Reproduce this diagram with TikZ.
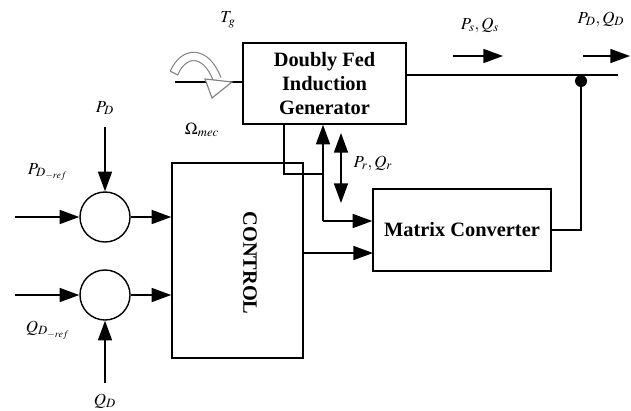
\documentclass[tikz,border=0pt]{standalone}
\usepackage{mathptmx}
\usepackage{fontspec}
\setmainfont{Liberation Serif}
\usetikzlibrary{arrows.meta}

\begin{document}
\begin{tikzpicture}[
    x=0.025cm, y=-0.025cm,
    block/.style={draw, rectangle, line width=1pt, inner sep=0pt, align=center, font=\fontsize{14.5}{17}\selectfont\bfseries},
    sum/.style={draw, circle, line width=1pt, minimum size=1.25cm, inner sep=0pt},
    arrow/.style={-{Triangle[length=14pt,width=10pt]}, line width=1pt},
    darrow/.style={{Triangle[length=14pt,width=10pt]}-{Triangle[length=14pt,width=10pt]}, line width=1pt},
    link/.style={line width=1pt},
    lbl/.style={font=\fontsize{12}{14}\selectfont, inner sep=0pt}
]
\useasboundingbox (0,0) rectangle (631,410);

% blocks
\node[block, minimum width=4.075cm, minimum height=2.025cm] (dfig) at (324.5,83.5) {Doubly Fed\\Induction\\Generator};
\node[block, minimum width=4.45cm, minimum height=2.05cm] (mc) at (462,230) {Matrix Converter};
\node[block, minimum width=3.275cm, minimum height=4.875cm] (ctrl) at (237.5,260.5) {};
\node[rotate=-90, font=\fontsize{14.5}{17}\selectfont\bfseries] (ctrltext) at (250,263) {CONTROL};

% summing junctions
\node[sum] (sumP) at (105,217) {};
\node[sum] (sumQ) at (105,295) {};

\coordinate (pref) at (15,217);
\coordinate (pmeas) at (105,127);
\coordinate (qref) at (15,295);
\coordinate (qmeas) at (105,383);

\draw[arrow] (pref) -- (sumP);
\draw[arrow] (pmeas) -- (sumP);
\draw[arrow] (sumP) -- (sumP -| ctrl.west);
\draw[arrow] (qref) -- (sumQ);
\draw[arrow] (qmeas) -- (sumQ);
\draw[arrow] (sumQ) -- (sumQ -| ctrl.west);

\node[lbl] (lpd) at (105,108) {$P_D$};
\node[lbl] (lpref) at (48,172) {$P_{D_{-ref}}$};
\node[lbl] (lqref) at (48,330) {$Q_{D_{-ref}}$};
\node[lbl] (lqd) at (105,401) {$Q_D$};

% mechanical input
\node[lbl] (ltg) at (228,20) {$T_g$};
\node[lbl] (lomega) at (202,130) {$\Omega_{mec}$};
\coordinate (shaft) at (175,82);
\draw[link] (shaft) -- (shaft -| dfig.west);
\draw[gray, line width=0.8pt, double=white, double distance=5pt] (174,73) .. controls (184,50) and (206,50) .. (217,79);
\draw[gray, line width=0.8pt] (170,71) -- (178,75);
\filldraw[gray, fill=white, line width=0.8pt] (205,79) -- (232,82) -- (212,98) -- cycle;

% stator side
\coordinate (busend) at (618,75);
\draw[link] (dfig.east |- busend) -- (busend);
\node[circle, fill, inner sep=0pt, minimum size=0.3cm] (junc) at (581,81) {};
\draw[link] (junc.center) |- (mc.east);

\coordinate (psA) at (453,56);
\coordinate (psB) at (503,56);
\draw[arrow] (psA) -- (psB);
\node[lbl] (lps) at (480,25) {$P_s,Q_s$};
\coordinate (pdA) at (583,56);
\coordinate (pdB) at (630,56);
\draw[arrow] (pdA) -- (pdB);
\node[lbl] (lpdqd) at (601,19) {$P_D,Q_D$};

% rotor side
\coordinate (tap) at (284,174);
\coordinate (rotor) at (323,221);
\draw[link] (dfig.south -| tap) -- (tap) -- (tap -| rotor);
\draw[arrow] (rotor) -- (rotor |- dfig.south);
\draw[arrow] (rotor) -- (rotor -| mc.west);

\coordinate (prTop) at (341,133);
\coordinate (prBot) at (341,203);
\draw[darrow] (prTop) -- (prBot);
\node[lbl] (lpr) at (373,163) {$P_r,Q_r$};

\coordinate (mcin) at (373,253);
\draw[arrow] (ctrl.east |- mcin) -- (mcin);
\end{tikzpicture}
\end{document}
